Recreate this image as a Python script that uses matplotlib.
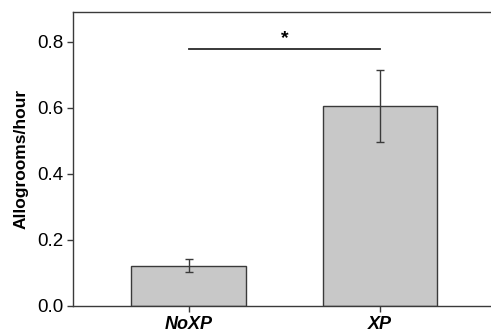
import matplotlib
matplotlib.use("Agg")
import matplotlib.pyplot as plt

plt.rcParams['font.family'] = ['Liberation Sans', 'DejaVu Sans']

groups = ["NoXP", "XP"]
means = [0.122, 0.605]
errs = [0.019, 0.108]
sig_y = 0.779
yticks = [0.0, 0.2, 0.4, 0.6, 0.8]

fig = plt.figure(figsize=(4.91, 3.34), dpi=100)
ax = fig.add_axes([73 / 491, 28 / 334, 1 - 73 / 491, 294 / 334])

x = range(len(groups))
ax.bar(x, means, width=0.6, color="#c8c8c8", edgecolor="#3a3a3a", linewidth=1.0, zorder=2)
ax.errorbar(x, means, yerr=errs, fmt="none", ecolor="#3a3a3a", elinewidth=1.0, capsize=2.7, capthick=1.0, zorder=3)

ax.plot([0, 1], [sig_y, sig_y], color="#2a2a2a", linewidth=1.3)
ax.text(0.5, sig_y + 0.006, "*", ha="center", va="bottom", fontsize=14, fontweight="bold")

ax.set_xlim(-0.604, 1.58)
ax.set_ylim(0, 0.89)
ax.set_xticks(list(x))
ax.set_xticklabels(groups, fontsize=13, fontweight="bold", fontstyle="italic")
ax.set_yticks(yticks)
ax.set_yticklabels([f"{v:.1f}" for v in yticks], fontsize=13.5)
ax.set_ylabel("Allogrooms/hour", fontsize=12.5, fontweight="bold", labelpad=6)
ax.tick_params(direction="out", length=4, width=1, color="#3a3a3a", pad=3)
for s in ax.spines.values():
    s.set_color("#3a3a3a")
    s.set_linewidth(1.0)
ax.spines["right"].set_visible(False)

fig.savefig("out.png", dpi=100)
